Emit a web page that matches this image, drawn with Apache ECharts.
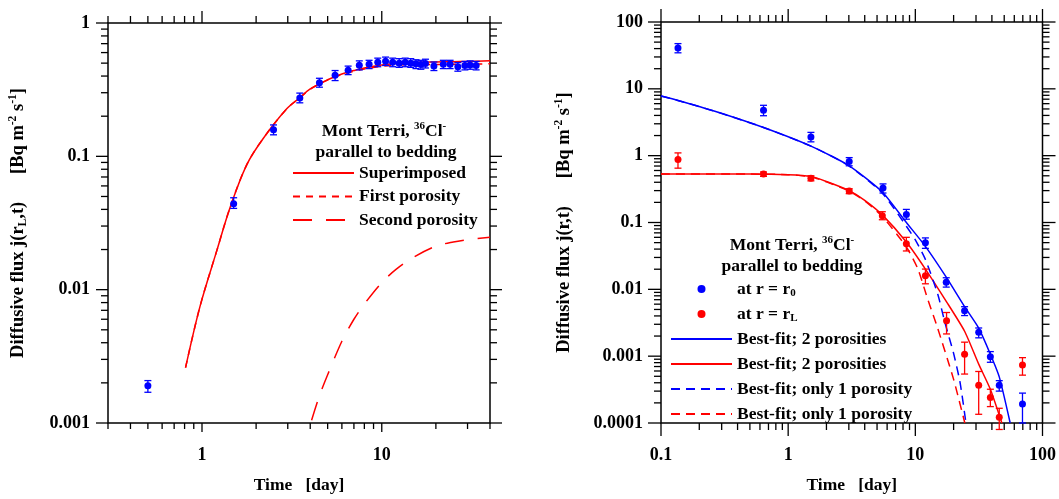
<!DOCTYPE html>
<html><head><meta charset="utf-8">
<script src="https://cdn.jsdelivr.net/npm/echarts@6/dist/echarts.min.js"></script>
<style>html,body{margin:0;padding:0;background:#fff}#c{width:1059px;height:499px}</style>
</head><body><div id="c"></div>
<script>
// ---------- Left panel: measured points (blue) ----------
const leftX   = [0.5, 1.5, 2.5, 3.5, 4.5, 5.5, 6.5, 7.5, 8.5, 9.5, 10.5, 11.5, 12.5, 13.5, 14.5, 15.5, 16.5, 17.5, 19.5, 22, 24, 26.5, 29, 31, 33.5];
const leftY   = [0.0019, 0.044, 0.158, 0.274, 0.357, 0.405, 0.443, 0.483, 0.49, 0.508, 0.517, 0.508, 0.50, 0.508, 0.50, 0.494, 0.488, 0.497, 0.475, 0.49, 0.49, 0.47, 0.48, 0.485, 0.48];
const leftLo  = [0.0017, 0.0407, 0.145, 0.252, 0.33, 0.37, 0.41, 0.445, 0.455, 0.47, 0.48, 0.47, 0.465, 0.47, 0.465, 0.455, 0.45, 0.46, 0.44, 0.455, 0.455, 0.435, 0.445, 0.45, 0.445];
const leftHi  = [0.00208, 0.0489, 0.172, 0.298, 0.385, 0.44, 0.475, 0.52, 0.525, 0.545, 0.555, 0.545, 0.54, 0.545, 0.54, 0.53, 0.525, 0.535, 0.51, 0.525, 0.525, 0.505, 0.515, 0.52, 0.515];

// ---------- Left panel: model curves ----------
const supX    = [0.81, 0.975, 1.21, 1.43, 1.77, 2.19, 2.96, 3.5, 4, 5, 6, 7, 8, 10, 12, 15, 20, 25, 30, 40];
const supY    = [0.0026, 0.0075, 0.0197, 0.041, 0.086, 0.136, 0.227, 0.275, 0.32, 0.375, 0.415, 0.44, 0.46, 0.485, 0.497, 0.505, 0.51, 0.513, 0.515, 0.52];
const firstY  = [0.0026, 0.0075, 0.0197, 0.041, 0.086, 0.136, 0.227, 0.275, 0.319, 0.373, 0.411, 0.434, 0.452, 0.474, 0.483, 0.488, 0.489, 0.49, 0.491, 0.495];
const secX    = [4.07, 4.5, 5, 6, 7, 8, 10, 12, 15, 20, 25, 30, 40];
const secY    = [0.00105, 0.0016, 0.0023, 0.0041, 0.006, 0.0078, 0.0113, 0.0142, 0.0175, 0.0212, 0.0228, 0.0237, 0.0247];

// ---------- Right panel: measured points ----------
const r0X  = [0.136, 0.64, 1.51, 3.02, 5.57, 8.5, 12.0, 17.5, 24.4, 31.5, 38.9, 45.7, 69.6];
const r0Y  = [41, 4.8, 1.9, 0.82, 0.327, 0.132, 0.0497, 0.0128, 0.0048, 0.00228, 0.00098, 0.000366, 0.000192];
const r0Lo = [34.6, 3.96, 1.61, 0.706, 0.276, 0.112, 0.041, 0.0108, 0.00405, 0.00188, 0.00081, 0.0003, 0.0001];
const r0Hi = [47.5, 5.67, 2.23, 0.935, 0.378, 0.157, 0.0588, 0.0149, 0.0055, 0.00264, 0.00117, 0.00043, 0.00028];
const rLX  = [0.136, 0.64, 1.51, 3.02, 5.5, 8.5, 12.0, 17.6, 24.4, 31.5, 38.9, 45.7, 69.6];
const rLY  = [0.88, 0.53, 0.46, 0.295, 0.126, 0.048, 0.016, 0.0034, 0.00107, 0.000366, 0.00024, 0.000122, 0.00074];
const rLLo = [0.65, 0.49, 0.42, 0.27, 0.11, 0.0375, 0.0121, 0.00215, 0.00054, 0.000135, 0.000176, 0.00008, 0.00052];
const rLHi = [1.1, 0.57, 0.5, 0.32, 0.145, 0.06, 0.0201, 0.0045, 0.00162, 0.00059, 0.00032, 0.000166, 0.00095];

// ---------- Right panel: model curves ----------
const b2X = [0.1, 0.136, 0.273, 0.64, 1.51, 3.02, 5.5, 8.5, 12, 17.5, 24.4, 31.5, 38.9, 45.7, 55.7];
const b2Y = [7.8, 6.7, 4.54, 2.64, 1.39, 0.706, 0.286, 0.1, 0.044, 0.0152, 0.0055, 0.00263, 0.00107, 0.00049, 0.0001];
const r2X = [0.1, 0.5, 1.0, 1.51, 2.0, 3.02, 4, 5.5, 8.5, 12, 17.6, 24.4, 31.5, 38.9, 47.9];
const r2Y = [0.53, 0.53, 0.52, 0.49, 0.41, 0.30, 0.215, 0.13, 0.051, 0.0201, 0.0065, 0.00236, 0.00076, 0.00032, 0.0001];
const b1X = [0.1, 0.136, 0.273, 0.64, 1.51, 3.02, 5.5, 8.5, 10, 12, 15, 17, 20, 22.5, 25];
const b1Y = [7.8, 6.7, 4.54, 2.64, 1.39, 0.70, 0.275, 0.088, 0.055, 0.028, 0.0085, 0.0033, 0.0011, 0.0004, 0.0001];
const r1X = [0.1, 0.5, 1.0, 1.51, 2.0, 3.02, 4, 5.5, 8.5, 10.5, 12.4, 15, 20, 24.5];
const r1Y = [0.53, 0.53, 0.52, 0.485, 0.405, 0.295, 0.21, 0.123, 0.043, 0.02, 0.0075, 0.0026, 0.00045, 0.0001];

// ---------- Axis ticks / labels ----------
const leftXTicks  = [1, 10];
const leftXLabels = ['1', '10'];
const leftXMinor  = [0.3, 0.4, 0.5, 0.6, 0.7, 0.8, 0.9, 2, 3, 4, 5, 6, 7, 8, 9, 20, 30, 40];
const leftYTicks  = [0.001, 0.01, 0.1, 1];
const leftYLabels = ['0.001', '0.01', '0.1', '1'];
const rightXTicks  = [0.1, 1, 10, 100];
const rightXLabels = ['0.1', '1', '10', '100'];
const rightYTicks  = [0.0001, 0.001, 0.01, 0.1, 1, 10, 100];
const rightYLabels = ['0.0001', '0.001', '0.01', '0.1', '1', '10', '100'];
const minorMult = [2, 3, 4, 5, 6, 7, 8, 9];

const FONT = 'Liberation Serif';
const BLUE = '#0000ff', RED = '#ff0000';

function zip(a, b) { return a.map((v, i) => [v, b[i]]); }
function zip3(a, b, c) { return a.map((v, i) => [v, b[i], c[i]]); }
function labelFmt(ticks, labels) {
  return function (v) {
    for (let i = 0; i < ticks.length; i++) {
      if (Math.abs(Math.log10(v) - Math.log10(ticks[i])) < 1e-6) return labels[i];
    }
    return '';
  };
}
function minors(lo, hi) {
  const out = [];
  const d0 = Math.floor(Math.log10(lo) + 1e-9), d1 = Math.ceil(Math.log10(hi) - 1e-9);
  for (let d = d0; d <= d1; d++) {
    minorMult.forEach(m => {
      const v = m * Math.pow(10, d);
      if (v >= lo * 0.9999 && v <= hi * 1.0001) out.push(v);
    });
  }
  return out;
}
// tick items: [xVal, yVal, side, len]  side:0 bottom,1 top,2 left,3 right
function tickData(xMaj, xMin, yMaj, yMin, xlo, ylo, lens) {
  const d = [];
  xMaj.forEach(v => { d.push([v, ylo, 0, lens.bM]); d.push([v, ylo, 1, lens.M]); });
  xMin.forEach(v => { d.push([v, ylo, 0, lens.bm]); d.push([v, ylo, 1, lens.m]); });
  yMaj.forEach(v => { d.push([xlo, v, 2, lens.M]); d.push([xlo, v, 3, lens.M]); });
  yMin.forEach(v => { d.push([xlo, v, 2, lens.m]); d.push([xlo, v, 3, lens.m]); });
  return d;
}
function tickRender(params, api) {
  const cs = params.coordSys;
  const side = api.value(2), len = api.value(3);
  const p = api.coord([api.value(0), api.value(1)]);
  let x1, y1, x2, y2;
  if (side === 0) { x1 = x2 = p[0]; y1 = cs.y + cs.height; y2 = y1 + len; }
  else if (side === 1) { x1 = x2 = p[0]; y1 = cs.y; y2 = y1 - len; }
  else if (side === 2) { y1 = y2 = p[1]; x1 = cs.x; x2 = x1 - len; }
  else { y1 = y2 = p[1]; x1 = cs.x + cs.width; x2 = x1 + len; }
  return { type: 'line', shape: { x1, y1, x2, y2 }, style: { stroke: '#000', lineWidth: 1.3 } };
}
function errRender(params, api) {
  const x = api.value(0);
  const a = api.coord([x, api.value(1)]), b = api.coord([x, api.value(2)]);
  const c = api.visual('color'), w = 3.5;
  return { type: 'group', children: [
    { type: 'line', shape: { x1: a[0], y1: a[1], x2: b[0], y2: b[1] }, style: { stroke: c, lineWidth: 1.3 } },
    { type: 'line', shape: { x1: a[0] - w, y1: a[1], x2: a[0] + w, y2: a[1] }, style: { stroke: c, lineWidth: 1.3 } },
    { type: 'line', shape: { x1: b[0] - w, y1: b[1], x2: b[0] + w, y2: b[1] }, style: { stroke: c, lineWidth: 1.3 } }
  ]};
}

const txt = { fontFamily: FONT, fontWeight: 'bold', color: '#000' };
const richAxis = {
  a: { fontFamily: FONT, fontWeight: 'bold', fontSize: 18.5, lineHeight: 22, color: '#000' },
  s: { fontFamily: FONT, fontWeight: 'bold', fontSize: 11.5, lineHeight: 12, verticalAlign: 'bottom', color: '#000' },
  p: { fontFamily: FONT, fontWeight: 'bold', fontSize: 11.5, lineHeight: 12, verticalAlign: 'top', color: '#000' }
};

function xAxis(gi, min, max, ticks, labels) {
  return {
    type: 'log', logBase: 10, gridIndex: gi, min, max,
    axisLine: { show: false }, axisTick: { show: false }, splitLine: { show: false }, minorTick: { show: false },
    axisLabel: { ...txt, fontSize: 18, margin: 23, formatter: labelFmt(ticks, labels) },
    name: 'Time   [day]', nameLocation: 'middle', nameGap: 53,
    nameTextStyle: { ...txt, fontSize: 17.5 }
  };
}
function yAxis(gi, min, max, ticks, labels, name, gap) {
  return {
    type: 'log', logBase: 10, gridIndex: gi, min, max,
    axisLine: { show: false }, axisTick: { show: false }, splitLine: { show: false }, minorTick: { show: false },
    axisLabel: { ...txt, fontSize: 18, margin: 18, formatter: labelFmt(ticks, labels) },
    name, nameLocation: 'middle', nameGap: gap, nameRotate: 90,
    nameTextStyle: { rich: richAxis }
  };
}

const legendRich = {
  t: { fontFamily: FONT, fontWeight: 'bold', fontSize: 17.5, lineHeight: 20, color: '#000' },
  s: { fontFamily: FONT, fontWeight: 'bold', fontSize: 11, lineHeight: 11, verticalAlign: 'bottom', color: '#000' }
};
const rightLegendText = {
  r0: '{t|at r = r}{s|0}', rL: '{t|at r = r}{s|L}',
  b2: '{t|Best-fit; 2 porosities}', r2: '{t|Best-fit; 2 porosities}',
  b1: '{t|Best-fit; only 1 porosity}', r1: '{t|Best-fit; only 1 porosity}'
};
const titleRich = {
  a: { fontFamily: FONT, fontWeight: 'bold', fontSize: 17.5, lineHeight: 20, fill: '#000', color: '#000' },
  p: { fontFamily: FONT, fontWeight: 'bold', fontSize: 11, lineHeight: 11, verticalAlign: 'top', fill: '#000', color: '#000' }
};
function titleText(x, y, text) {
  return { type: 'text', x, y, silent: true,
    style: { text, align: 'center', verticalAlign: 'middle', rich: titleRich,
      fontFamily: FONT, fontWeight: 'bold', fontSize: 17.5, fill: '#000' } };
}
const noSym = { opacity: 0 };

const lensL = { M: 12, m: 7, bM: 9, bm: 6 };
const lensR = { M: 13, m: 7, bM: 13, bm: 7 };

const option = {
  animation: false,
  backgroundColor: '#fff',
  grid: [
    { left: 108, top: 23, width: 382, height: 404, show: true, borderColor: '#000', borderWidth: 1.5, backgroundColor: 'transparent' },
    { left: 661, top: 22, width: 383, height: 407, show: true, borderColor: '#000', borderWidth: 1.5, backgroundColor: 'transparent' }
  ],
  xAxis: [ xAxis(0, 0.3, 40, leftXTicks, leftXLabels), xAxis(1, 0.1, 100, rightXTicks, rightXLabels) ],
  yAxis: [
    yAxis(0, 0.001, 1, leftYTicks, leftYLabels, '{a|Diffusive flux j(r}{s|L}{a|,t)      [Bq m}{p|-2}{a| s}{p|-1}{a|]}', 79),
    yAxis(1, 0.0001, 100, rightYTicks, rightYLabels, '{a|Diffusive flux j(r,t)      [Bq m}{p|-2}{a| s}{p|-1}{a|]}', 86)
  ],
  legend: [
    { data: [
        { name: 'Superimposed', itemStyle: noSym },
        { name: 'First porosity', itemStyle: noSym },
        { name: 'Second porosity', itemStyle: noSym } ],
      left: 292, top: 163, orient: 'vertical',
      itemWidth: 61, itemHeight: 10, itemGap: 3.5, padding: 0, selectedMode: false,
      textStyle: { fontFamily: FONT, fontWeight: 'bold', fontSize: 17.5, lineHeight: 20, color: '#000' } },
    { data: [ 'r0', 'rL',
        { name: 'b2', itemStyle: noSym }, { name: 'r2', itemStyle: noSym },
        { name: 'b1', itemStyle: noSym }, { name: 'r1', itemStyle: noSym } ],
      left: 670, top: 279, orient: 'vertical',
      itemWidth: 61, itemHeight: 8, itemGap: 5, padding: 0, selectedMode: false,
      formatter: n => rightLegendText[n],
      textStyle: { rich: legendRich, fontFamily: FONT, fontWeight: 'bold', fontSize: 17.5, lineHeight: 20, color: '#000' } }
  ],
  graphic: [
    titleText(384, 131, '{a|Mont Terri, }{p|36}{a|Cl}{p|-}'),
    titleText(386, 152, '{a|parallel to bedding}'),
    titleText(792, 245, '{a|Mont Terri, }{p|36}{a|Cl}{p|-}'),
    titleText(792, 266, '{a|parallel to bedding}')
  ],
  series: [
    // left panel
    { name: 'Superimposed', type: 'line', xAxisIndex: 0, yAxisIndex: 0, data: zip(supX, supY), symbol: 'none', smooth: 0.35,
      lineStyle: { color: RED, width: 1.5 }, itemStyle: { color: RED } },
    { name: 'First porosity', type: 'line', xAxisIndex: 0, yAxisIndex: 0, data: zip(supX, firstY), symbol: 'none', smooth: 0.35,
      lineStyle: { color: RED, width: 1.5, type: [7, 6] }, itemStyle: { color: RED } },
    { name: 'Second porosity', type: 'line', xAxisIndex: 0, yAxisIndex: 0, data: zip(secX, secY), symbol: 'none', smooth: 0.3,
      lineStyle: { color: RED, width: 1.5, type: [19, 14] }, itemStyle: { color: RED } },
    { name: 'errL', type: 'custom', xAxisIndex: 0, yAxisIndex: 0, data: zip3(leftX, leftLo, leftHi),
      renderItem: errRender, itemStyle: { color: BLUE }, encode: { x: 0, y: [1, 2] }, z: 5, silent: true },
    { name: 'ptsL', type: 'scatter', xAxisIndex: 0, yAxisIndex: 0, data: zip(leftX, leftY), symbolSize: 7,
      itemStyle: { color: BLUE, opacity: 1 }, z: 6, silent: true },
    { name: 'ticksL', type: 'custom', xAxisIndex: 0, yAxisIndex: 0, silent: true, clip: false,
      data: tickData(leftXTicks, leftXMinor, leftYTicks, minors(0.001, 1), 0.3, 0.001, lensL),
      renderItem: tickRender, encode: { x: 0, y: 1 } },
    // right panel
    { name: 'b2', type: 'line', xAxisIndex: 1, yAxisIndex: 1, data: zip(b2X, b2Y), symbol: 'none', smooth: 0.2,
      lineStyle: { color: BLUE, width: 1.5 }, itemStyle: { color: BLUE } },
    { name: 'r2', type: 'line', xAxisIndex: 1, yAxisIndex: 1, data: zip(r2X, r2Y), symbol: 'none', smooth: 0.2,
      lineStyle: { color: RED, width: 1.5 }, itemStyle: { color: RED } },
    { name: 'b1', type: 'line', xAxisIndex: 1, yAxisIndex: 1, data: zip(b1X, b1Y), symbol: 'none', smooth: 0.2,
      lineStyle: { color: BLUE, width: 1.5, type: [9, 6] }, itemStyle: { color: BLUE } },
    { name: 'r1', type: 'line', xAxisIndex: 1, yAxisIndex: 1, data: zip(r1X, r1Y), symbol: 'none', smooth: 0.2,
      lineStyle: { color: RED, width: 1.5, type: [9, 6] }, itemStyle: { color: RED } },
    { name: 'errB', type: 'custom', xAxisIndex: 1, yAxisIndex: 1, data: zip3(r0X, r0Lo, r0Hi),
      renderItem: errRender, itemStyle: { color: BLUE }, encode: { x: 0, y: [1, 2] }, z: 5, silent: true },
    { name: 'errR', type: 'custom', xAxisIndex: 1, yAxisIndex: 1, data: zip3(rLX, rLLo, rLHi),
      renderItem: errRender, itemStyle: { color: RED }, encode: { x: 0, y: [1, 2] }, z: 5, silent: true },
    { name: 'r0', type: 'scatter', xAxisIndex: 1, yAxisIndex: 1, data: zip(r0X, r0Y), symbolSize: 7,
      itemStyle: { color: BLUE, opacity: 1 }, z: 6, silent: true },
    { name: 'rL', type: 'scatter', xAxisIndex: 1, yAxisIndex: 1, data: zip(rLX, rLY), symbolSize: 7,
      itemStyle: { color: RED, opacity: 1 }, z: 6, silent: true },
    { name: 'ticksR', type: 'custom', xAxisIndex: 1, yAxisIndex: 1, silent: true, clip: false,
      data: tickData(rightXTicks, minors(0.1, 100), rightYTicks, minors(0.0001, 100), 0.1, 0.0001, lensR),
      renderItem: tickRender, encode: { x: 0, y: 1 } }
  ]
};
const chart = echarts.init(document.getElementById('c'), null, { renderer: 'canvas' });
chart.setOption(option);
</script></body></html>
